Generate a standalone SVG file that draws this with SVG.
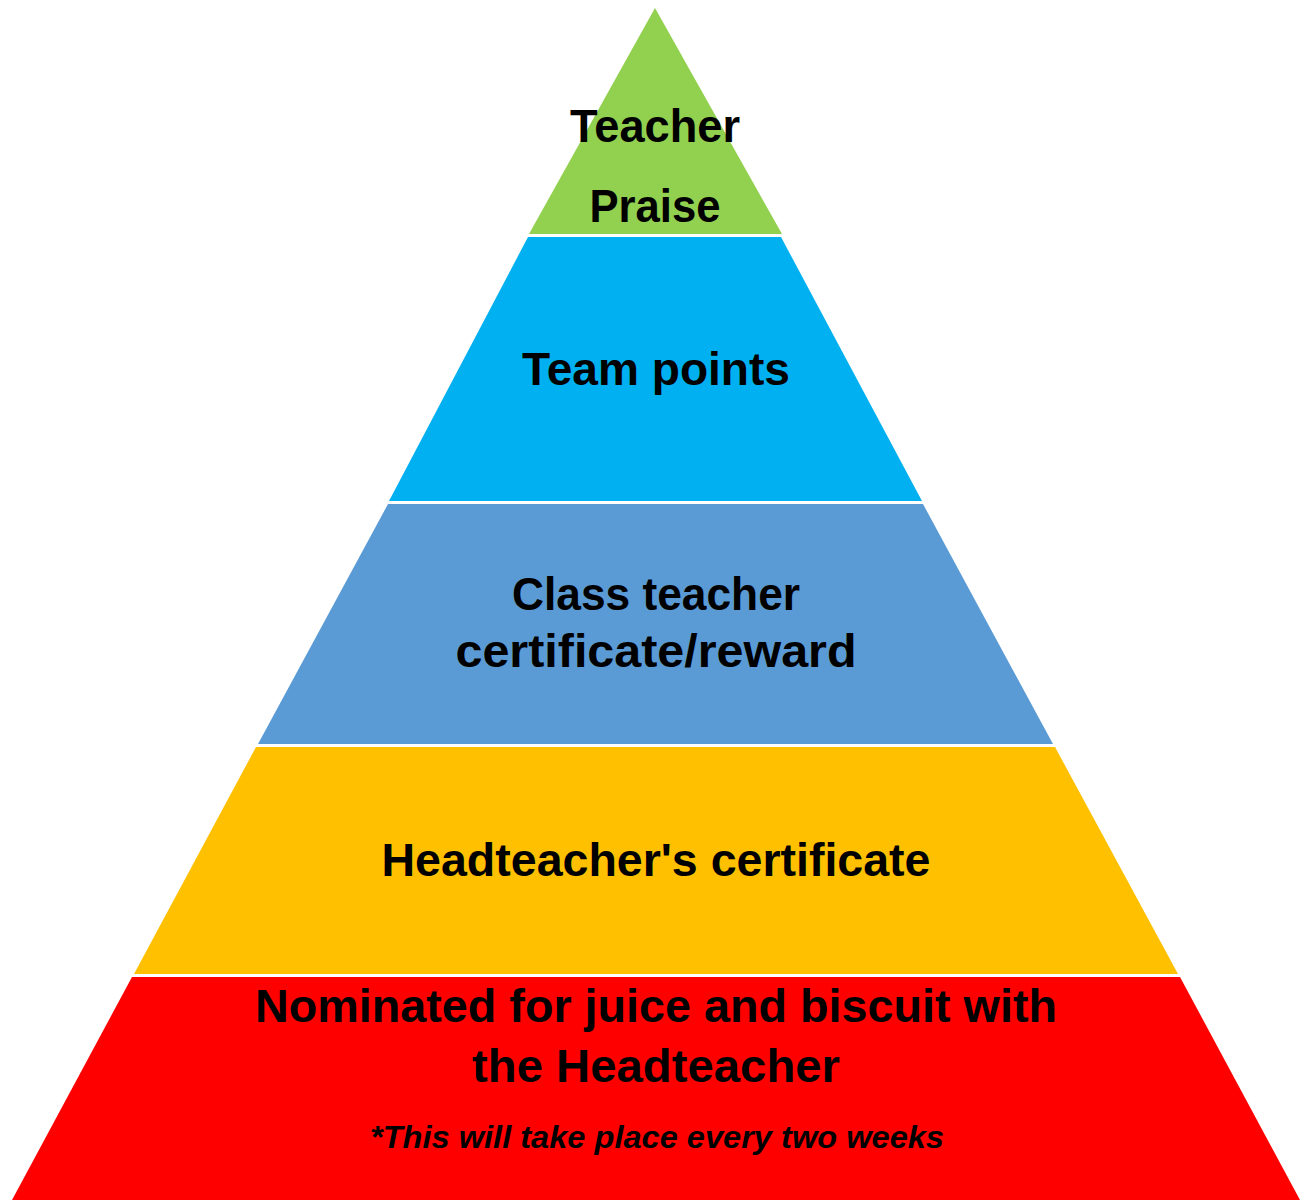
<svg xmlns="http://www.w3.org/2000/svg" width="1308" height="1200" viewBox="0 0 1308 1200">
<style>
.t{font-family:"Liberation Sans",Arial,sans-serif;font-weight:bold;font-size:47px;fill:#000;text-anchor:middle}
.n{font-family:"Liberation Sans",Arial,sans-serif;font-weight:bold;font-style:italic;font-size:31px;fill:#000;text-anchor:middle}
</style>
<rect width="1308" height="1200" fill="#fff"/>
<g id="level-teacher-praise">
<polygon points="655,8 782,234 529,234" fill="#92D050"/>
<text class="t" x="655" y="142" textLength="170" lengthAdjust="spacingAndGlyphs">Teacher</text>
<text class="t" x="655" y="222" textLength="131" lengthAdjust="spacingAndGlyphs">Praise</text>
</g>
<g id="level-team-points">
<polygon points="528,237 781,237 922,501 389,501" fill="#00B0F0"/>
<text class="t" x="656" y="385" textLength="268" lengthAdjust="spacingAndGlyphs">Team points</text>
</g>
<g id="level-class-teacher">
<polygon points="388,504 923,504 1053,744 258,744" fill="#5B9BD5"/>
<text class="t" x="656" y="610" textLength="288" lengthAdjust="spacingAndGlyphs">Class teacher</text>
<text class="t" x="656" y="667" textLength="401" lengthAdjust="spacingAndGlyphs">certificate/reward</text>
</g>
<g id="level-headteacher-certificate">
<polygon points="256,747 1055,747 1178,974 134,974" fill="#FFC000"/>
<text class="t" x="656" y="876" textLength="549" lengthAdjust="spacingAndGlyphs">Headteacher's certificate</text>
</g>
<g id="level-juice-biscuit">
<polygon points="132,977 1180,977 1300,1200 12,1200" fill="#FF0000"/>
<text class="t" x="656" y="1022" textLength="802" lengthAdjust="spacingAndGlyphs">Nominated for juice and biscuit with</text>
<text class="t" x="656" y="1082" textLength="368" lengthAdjust="spacingAndGlyphs">the Headteacher</text>
<text class="n" x="657" y="1148" textLength="574" lengthAdjust="spacingAndGlyphs">*This will take place every two weeks</text>
</g>
<g id="connectors"/>
</svg>
